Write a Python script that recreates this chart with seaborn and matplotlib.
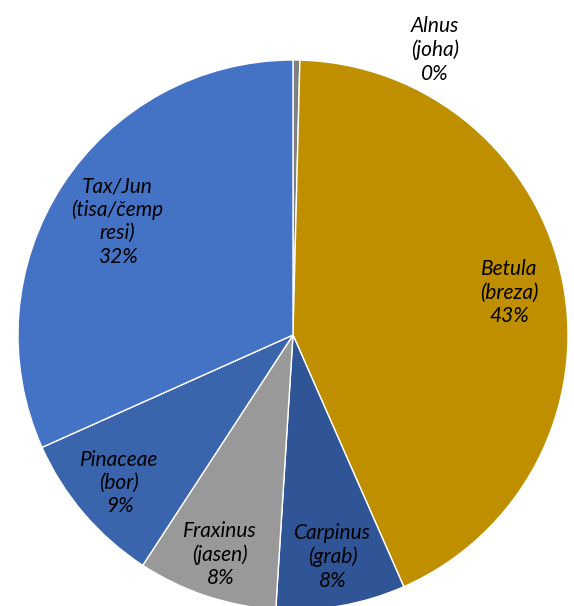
import numpy as np
import matplotlib
matplotlib.use("Agg")
import matplotlib.pyplot as plt
import seaborn as sns

# Pollen share by taxon
taxa = ["Alnus\n(joha)", "Betula\n(breza)", "Carpinus\n(grab)", "Fraxinus\n(jasen)",
        "Pinaceae\n(bor)", "Tax/Jun\n(tisa/čemp\nresi)"]
shares = [0.4, 43.0, 7.6, 8.2, 9.1, 31.7]
colors = ["#7F7F7F", "#BF8F00", "#2F5597", "#999999", "#3A65AD", "#4472C4"]

sns.set_style("white")
plt.rcParams['font.family'] = ['Lato', 'DejaVu Sans']

W, H = 574, 606
fig = plt.figure(figsize=(W / 100, H / 100), dpi=100)
ax = fig.add_axes([0, 0, 1, 1])

cx, cy, R = 293, H - 335, 275
wedges, _ = ax.pie(shares, colors=colors, startangle=90, counterclock=False,
                   center=(cx, cy), radius=R, frame=True,
                   wedgeprops=dict(edgecolor="white", linewidth=1.0))
ax.set_xlim(0, W)
ax.set_ylim(0, H)
ax.set_aspect("equal")
ax.axis("off")

# label distance (fraction of radius) per slice
dist = [None, 0.80, 0.82, 0.84, 0.83, 0.76]
total = sum(shares)
for w, name, v, d in zip(wedges, taxa, shares, dist):
    text = f"{name}\n{round(v / total * 100):.0f}%"
    if d is None:
        x, y = 435, H - 50
    else:
        ang = np.deg2rad((w.theta1 + w.theta2) / 2)
        x = cx + d * R * np.cos(ang)
        y = cy + d * R * np.sin(ang)
    ax.text(x, y, text, ha="center", va="center", fontsize=15,
            style="italic", color="black", linespacing=1.2)

fig.savefig("out.png", dpi=100)
